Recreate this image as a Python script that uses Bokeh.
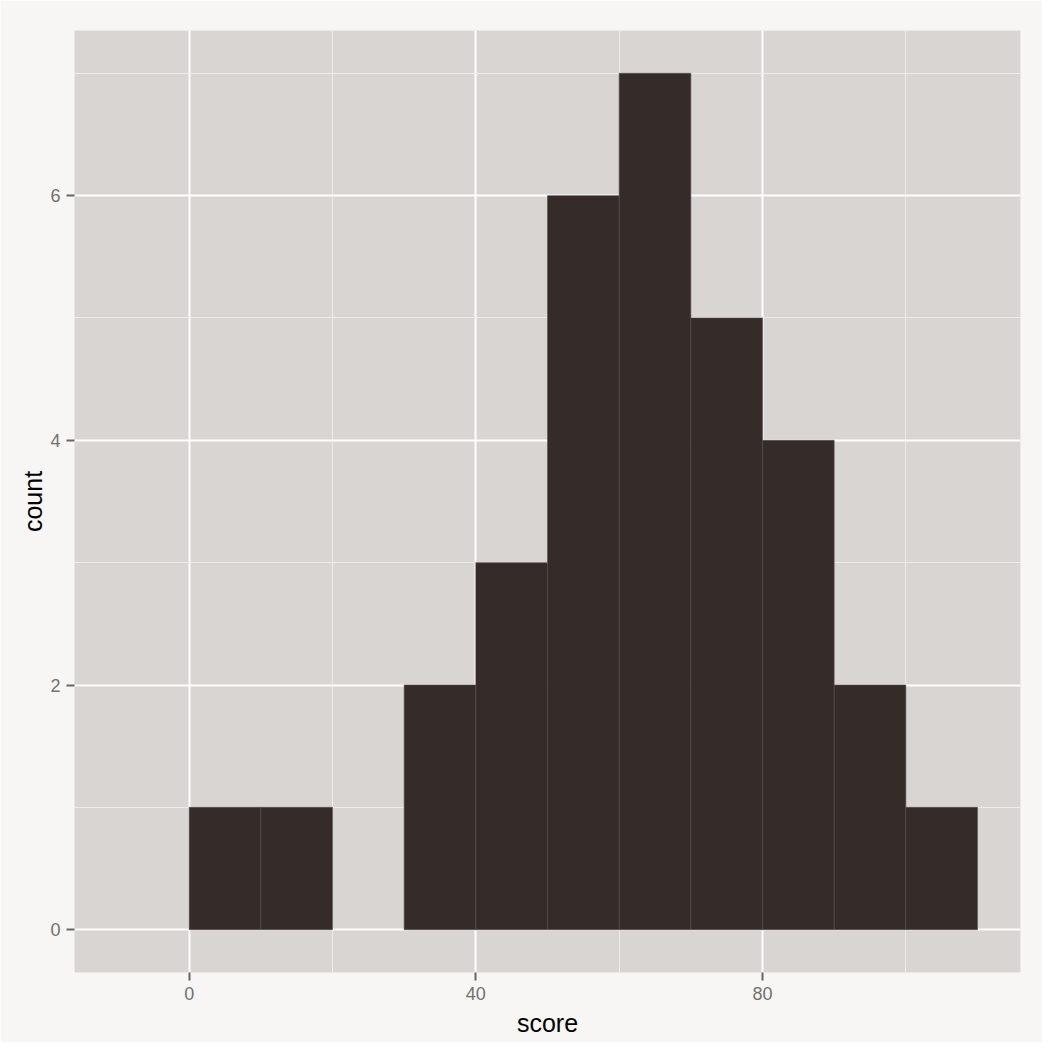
from bokeh.plotting import figure
from bokeh.models import ColumnDataSource, Range1d, FixedTicker
from bokeh.embed import file_html
from bokeh.resources import INLINE

# Histogram data (bin width 10)
bin_left = [0, 10, 20, 30, 40, 50, 60, 70, 80, 90, 100]
bin_right = [10, 20, 30, 40, 50, 60, 70, 80, 90, 100, 110]
counts = [1, 1, 0, 2, 3, 6, 7, 5, 4, 2, 1]
x_ticks = [0, 40, 80]
x_minor = [20, 60, 100]
y_ticks = [0, 2, 4, 6]
y_minor = [1, 3, 5, 7]

keep = [i for i, c in enumerate(counts) if c > 0]
src = ColumnDataSource(dict(
    left=[bin_left[i] for i in keep],
    right=[bin_right[i] for i in keep],
    top=[counts[i] for i in keep],
    bottom=[0] * len(keep),
))

FONT = "Liberation Sans"

p = figure(
    width=1042, height=1042,
    frame_width=946, frame_height=942,
    x_range=Range1d(-16, 116), y_range=Range1d(-0.35, 7.35),
    output_backend="svg", toolbar_location=None,
    min_border_left=74, min_border_right=22, min_border_top=30, min_border_bottom=70,
    background_fill_color="#D9D5D2", border_fill_color="#F7F6F5",
    outline_line_color=None,
)

# grid lines
p.xgrid.ticker = FixedTicker(ticks=x_ticks, minor_ticks=x_minor)
p.ygrid.ticker = FixedTicker(ticks=y_ticks, minor_ticks=y_minor)
for g in (p.xgrid, p.ygrid):
    g.grid_line_color = "#FFFFFF"
    g.grid_line_width = 2
    g.minor_grid_line_color = "#EEEBE9"
    g.minor_grid_line_width = 1

p.quad(left="left", right="right", top="top", bottom="bottom", source=src,
       fill_color="#352C2A", line_color="#544C49", line_width=0.6)

p.xaxis.ticker = FixedTicker(ticks=x_ticks)
p.yaxis.ticker = FixedTicker(ticks=y_ticks)
p.xaxis.axis_label = "score"
p.yaxis.axis_label = "count"
for ax in (p.xaxis, p.yaxis):
    ax.axis_line_color = None
    ax.major_tick_line_color = "#666666"
    ax.major_tick_line_width = 2
    ax.major_tick_out = 8
    ax.major_tick_in = 0
    ax.minor_tick_line_color = None
    ax.major_label_text_font = FONT
    ax.major_label_text_font_size = "18px"
    ax.major_label_text_color = "#717171"
    ax.axis_label_text_font = FONT
    ax.axis_label_text_font_size = "25px"
    ax.axis_label_text_font_style = "normal"
    ax.axis_label_text_color = "#000000"
    ax.major_label_standoff = 6
p.yaxis.major_label_orientation = "horizontal"
p.xaxis.axis_label_standoff = 6
p.yaxis.axis_label_standoff = 0

open("out.html", "w").write(file_html(p, INLINE))
